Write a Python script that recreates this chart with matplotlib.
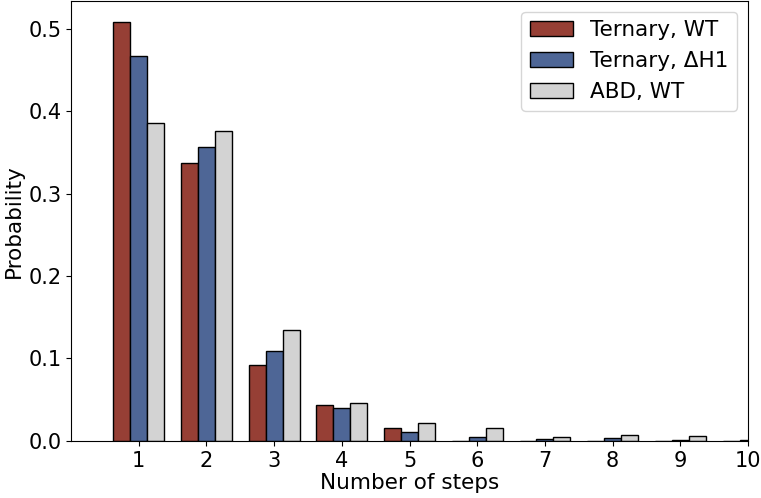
import matplotlib
matplotlib.use("Agg")
import matplotlib.pyplot as plt
import numpy as np

steps = [1, 2, 3, 4, 5, 6, 7, 8, 9, 10]
ternary_wt = [0.508, 0.3375, 0.092, 0.0433, 0.0158, 0.0, 0.0, 0.0, 0.0, 0.0]
ternary_dh1 = [0.467, 0.357, 0.109, 0.0396, 0.0105, 0.005, 0.003, 0.004, 0.001, 0.001]
abd_wt = [0.385, 0.376, 0.135, 0.046, 0.0218, 0.0158, 0.005, 0.007, 0.0055, 0.0]

labels = ["Ternary, WT", "Ternary, \u0394H1", "ABD, WT"]
colors = ["#963f35", "#4e6696", "#d3d3d3"]

fig = plt.figure(figsize=(7.61, 4.98), dpi=100)
ax = fig.add_axes([0.0933, 0.1145, 0.8897, 0.8835])

x = np.array(steps)
w = 0.25
for i, (vals, lab, col) in enumerate(zip([ternary_wt, ternary_dh1, abd_wt], labels, colors)):
    ax.bar(x + (i - 1) * w, vals, width=w, color=col, edgecolor="black", linewidth=1, label=lab)

ax.set_xlim(0, 10)
ax.set_xticks(steps)
ax.tick_params(labelsize=15)
ax.set_xlabel("Number of steps", fontsize=15.5, labelpad=2)
ax.set_ylabel("Probability", fontsize=15.5, labelpad=3)
ax.legend(fontsize=15.5, loc="upper right")

fig.savefig("out.png", dpi=100)
